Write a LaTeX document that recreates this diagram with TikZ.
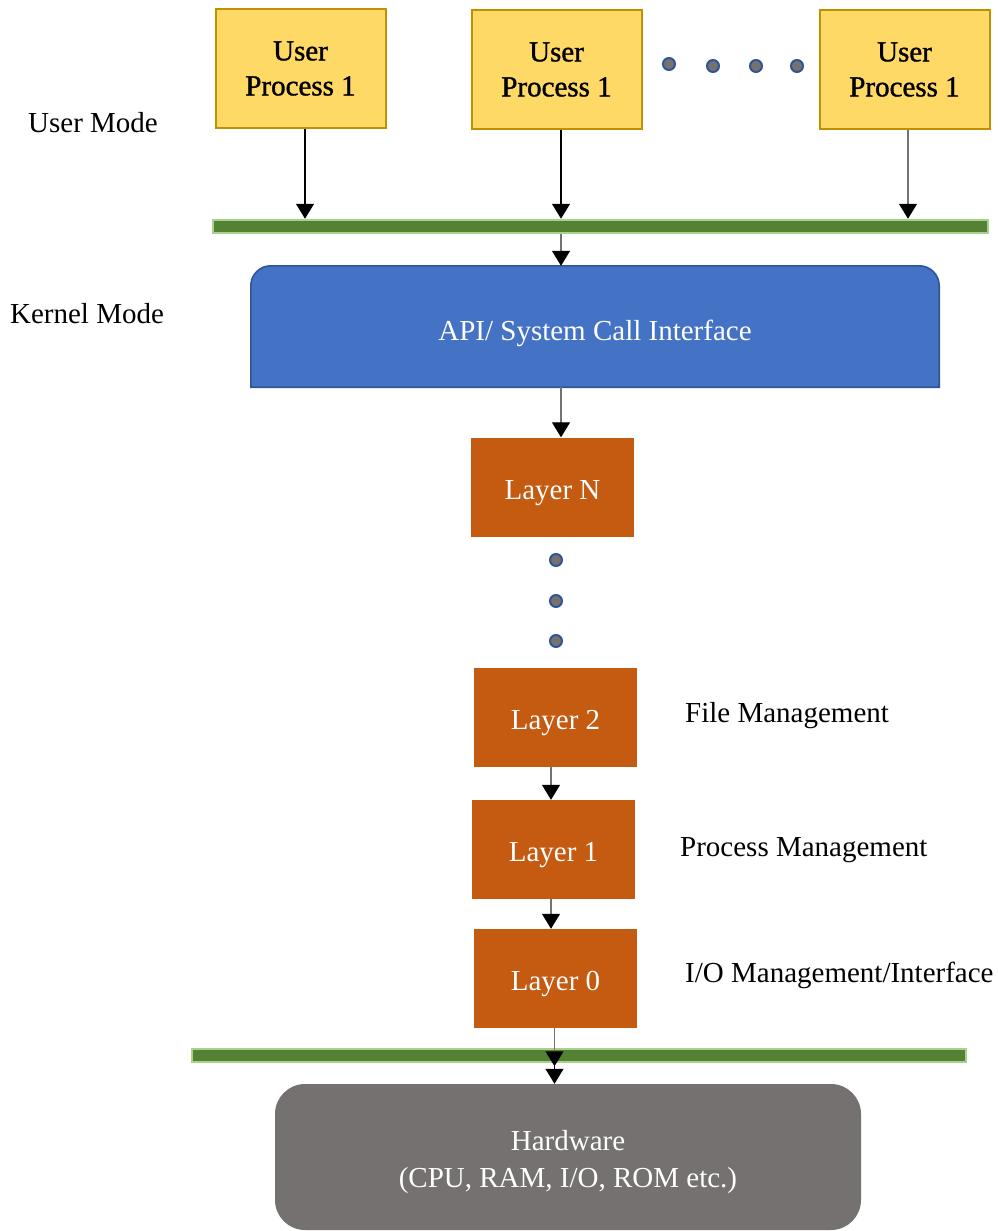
\documentclass[tikz,border=0pt]{standalone}
\usepackage{fontspec}
\setmainfont{Liberation Serif}
\newfontfamily\procfont[FakeBold=1.2]{Liberation Serif}
\usetikzlibrary{arrows.meta,backgrounds}

\definecolor{procfill}{HTML}{FFD966}
\definecolor{procedge}{HTML}{BF9000}
\definecolor{bardark}{HTML}{548235}
\definecolor{barlight}{HTML}{A9D18E}
\definecolor{apifill}{HTML}{4472C4}
\definecolor{apiedge}{HTML}{2F5597}
\definecolor{layerfill}{HTML}{C55A11}
\definecolor{hwfill}{HTML}{767171}

% lower a label inside its box without changing the box size
\newcommand\droptext[2]{\raisebox{-#1}[\height][\depth]{#2}}

\tikzset{
  txt/.style={font=\fontsize{29}{35}\selectfont},
  proc/.style={font=\procfont\fontsize{29}{35}\selectfont, draw=procedge, fill=procfill, line width=2pt,
    minimum width=170pt, minimum height=118pt, align=center, inner sep=0pt},
  bus/.style={draw=barlight, fill=bardark, line width=2.5pt,
    minimum height=13pt, inner sep=0pt},
  layerbox/.style={txt, fill=layerfill, text=white,
    minimum width=163pt, minimum height=99pt, inner sep=0pt},
  dotmark/.style={circle, fill=hwfill, draw=apiedge, line width=2pt,
    minimum size=12pt, inner sep=0pt},
  flow/.style={-{Triangle[width=18pt,length=15pt,fill=black,color=black]}, line width=1.1pt, draw=black},
  flowg/.style={flow, draw=black!55},
  side/.style={txt, anchor=west, inner sep=0pt},
}

\begin{document}
\begin{tikzpicture}[x=1pt,y=-1pt]
\useasboundingbox (0,0) rectangle (997,1231);

% user processes
\node[proc] (up1) at (300.5,68.5) {User\\Process 1};
\node[proc] (up2) at (556.5,69.5) {User\\Process 1};
\node[proc] (up3) at (904.5,69.5) {User\\Process 1};

% ellipsis between the processes
\node[dotmark] (h1) at (669,64) {};
\node[dotmark] (h2) at (713,66) {};
\node[dotmark] (h3) at (756,66) {};
\node[dotmark] (h4) at (797,66) {};

% mode labels
\node[txt, inner sep=0pt] (umode) at (93,123) {User Mode};
\node[txt, inner sep=0pt] (kmode) at (87,314) {Kernel Mode};

% upper bus
\node[bus, minimum width=775pt] (bustop) at (600.5,226.5) {};

% system call interface (rounded top corners only)
\node[txt, text=white, minimum width=688pt, minimum height=121pt, inner sep=0pt]
  (api) at (595,326.5) {\droptext{7pt}{API/ System Call Interface}};
\begin{scope}[on background layer]
  \draw[fill=apifill, draw=apiedge, line width=1.6pt]
    (api.south west) -- ([yshift=-20pt]api.north west) arc[start angle=180, end angle=90, radius=20pt]
    -- ([xshift=-20pt]api.north east) arc[start angle=90, end angle=0, radius=20pt]
    -- (api.south east) -- cycle;
\end{scope}

% layers
\node[layerbox] (ln) at (552.5,487) {\droptext{6pt}{Layer N}};
\node[dotmark] (v1) at (556,560) {};
\node[dotmark] (v2) at (556,601) {};
\node[dotmark] (v3) at (556,641) {};
\node[layerbox] (l2) at (555.5,717) {\droptext{6pt}{Layer 2}};
\node[layerbox] (l1) at (553.5,849.5) {\droptext{6pt}{Layer 1}};
\node[layerbox] (l0) at (555.5,978.5) {\droptext{5pt}{Layer 0}};

% layer descriptions
\node[side] (fm) at (685,716) {File Management};
\node[side] (pm) at (680,850) {Process Management};
\node[side] (im) at (685,975) {I/O Management/Interface};

% lower bus
\node[bus, minimum width=774pt] (busbot) at (579,1055.5) {};

% hardware
\node[txt, fill=hwfill, text=white, rounded corners=30pt, minimum width=586pt,
  minimum height=146pt, inner sep=0pt, font=\fontsize{29}{37}\selectfont]
  (hw) at (568,1157)
  {\droptext{5pt}{\begin{tabular}{@{}c@{}}Hardware\\(CPU, RAM, I/O, ROM etc.)\end{tabular}}};

% vertical guide lines for the connectors
\coordinate (s1) at ([xshift=4.5pt]up1.south);
\coordinate (s2) at ([xshift=4.5pt]up2.south);
\coordinate (s3) at ([xshift=3.5pt]up3.south);
\coordinate (k2) at ([xshift=-4.5pt]l2.south);
\coordinate (k1) at ([xshift=-2.5pt]l1.south);
\coordinate (k0) at ([xshift=-1pt]l0.south);

% connectors
\draw[flow] (s1) -- (s1 |- bustop.north);
\draw[flow] (s2) -- (s2 |- bustop.north);
\draw[flowg] (s3) -- (s3 |- bustop.north);
\draw[flowg] (s2 |- bustop.south) -- (s2 |- api.north);
\draw[flowg] (s2 |- api.south) -- (s2 |- ln.north);
\draw[flowg] (k2) -- (k2 |- l1.north);
\draw[flowg] (k1) -- (k1 |- l0.north);
\draw[flowg] (k0) -- ([yshift=-3pt]k0 |- busbot.south);
\draw[flow] (k0 |- busbot.south) -- (k0 |- hw.north);
\end{tikzpicture}
\end{document}
